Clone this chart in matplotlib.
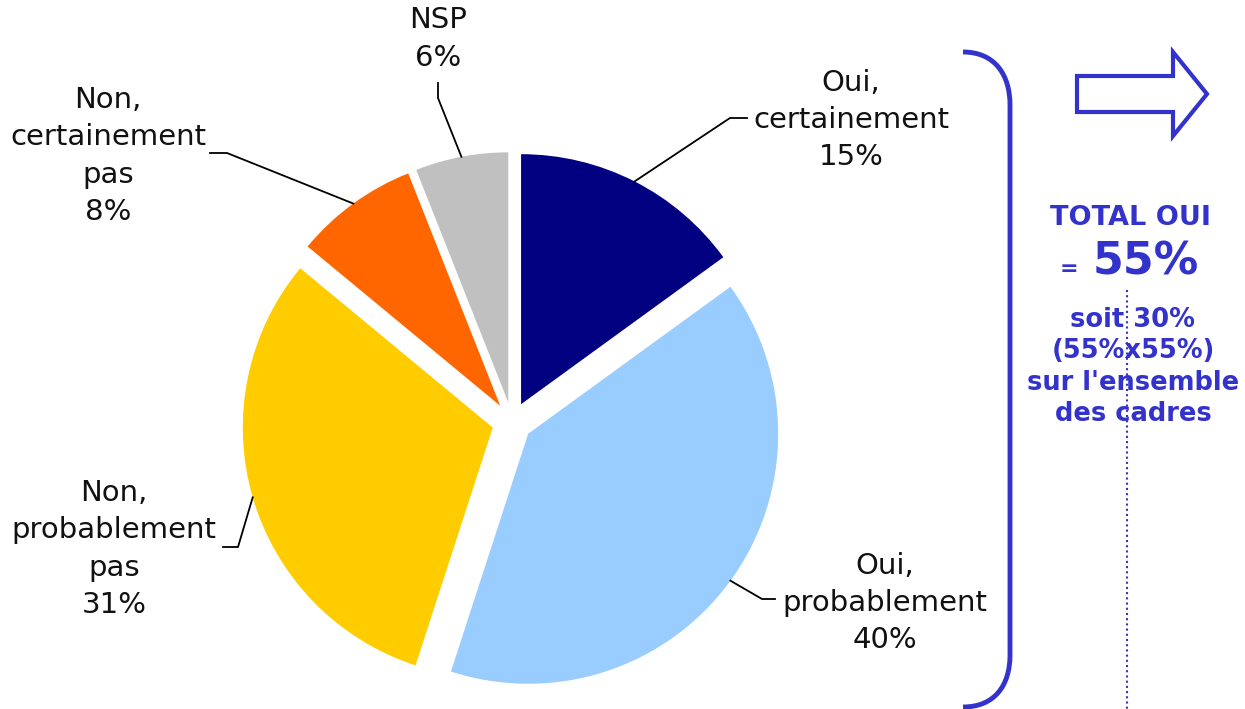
import numpy as np
import matplotlib
matplotlib.use('Agg')
import matplotlib.pyplot as plt
from matplotlib.path import Path
from matplotlib.patches import PathPatch, Polygon

plt.rcParams['font.family'] = 'DejaVu Sans'

# data
labels = ['Oui,\ncertainement\n15%', 'Oui,\nprobablement\n40%',
          'Non,\nprobablement\npas\n31%', 'Non,\ncertainement\npas\n8%', 'NSP\n6%']
values = [15, 40, 31, 8, 6]
colors = ['#000080', '#99CCFF', '#FFCC00', '#FF6600', '#C0C0C0']
total_oui = 55
total_ensemble = 30

BLUE = '#3333CC'

fig = plt.figure(figsize=(12.45, 7.09), dpi=100)
ax = fig.add_axes([0, 0, 1, 1])

# y axis inverted below -> startangle -90 is the top, counterclock draws clockwise
wedges, _ = ax.pie(values, colors=colors, startangle=-90, counterclock=True,
                   center=(512, 422), radius=250, explode=[20] * len(values))
ax.set_xlim(0, 1245)
ax.set_ylim(709, 0)
ax.axis('off')

# label text centre, elbow of the leader, end of the leader
label_pos = [(851, 120), (885, 603), (114, 549), (108, 156), (438, 39)]
elbows = [(730, 118), (762, 599), (238, 547), (227, 153), (438, 98)]
ends = [(747, 118), (775, 599), (223, 547), (210, 153), (438, 83)]

for w, lab, tp, el, en in zip(wedges, labels, label_pos, elbows, ends):
    th = np.deg2rad((w.theta1 + w.theta2) / 2)
    ax0 = w.center[0] + w.r * np.cos(th)
    ay0 = w.center[1] + w.r * np.sin(th)
    ax.plot([ax0, el[0], en[0]], [ay0, el[1], en[1]], color='black', lw=1.3)
    ax.text(tp[0], tp[1], lab, ha='center', va='center', multialignment='center',
            fontsize=21, linespacing=1.42, color='#111111')

# bracket
verts = [(963, 52), (995, 52), (1010, 75), (1010, 105), (1010, 655),
         (1010, 685), (995, 707), (963, 707)]
codes = [Path.MOVETO, Path.CURVE4, Path.CURVE4, Path.CURVE4, Path.LINETO,
         Path.CURVE4, Path.CURVE4, Path.CURVE4]
ax.add_patch(PathPatch(Path(verts, codes), fill=False, edgecolor=BLUE, lw=3.5))

# outlined arrow
arrow = [(1077, 76), (1173, 76), (1173, 52), (1207, 94), (1173, 136),
         (1173, 112), (1077, 112)]
ax.add_patch(Polygon(arrow, closed=True, facecolor='white', edgecolor=BLUE, lw=3))

# dotted line
ax.plot([1127, 1127], [290, 709], color=BLUE, lw=1.5, ls=(0, (1, 1.5)))

ax.text(1130, 218, 'TOTAL OUI', ha='center', va='center', fontsize=19.5,
        fontweight='bold', color=BLUE)
ax.text(1069, 269, '=', ha='center', va='center', fontsize=16,
        fontweight='bold', color=BLUE)
ax.text(1146, 262, f'{total_oui}%', ha='center', va='center', fontsize=32,
        fontweight='bold', color=BLUE)
ax.text(1133, 367,
        f'soit {total_ensemble}%\n({total_oui}%x{total_oui}%)\nsur l\'ensemble\ndes cadres',
        ha='center', va='center', multialignment='center', fontsize=18.5,
        fontweight='bold', linespacing=1.26, color=BLUE)

fig.savefig('out.png', dpi=100)
